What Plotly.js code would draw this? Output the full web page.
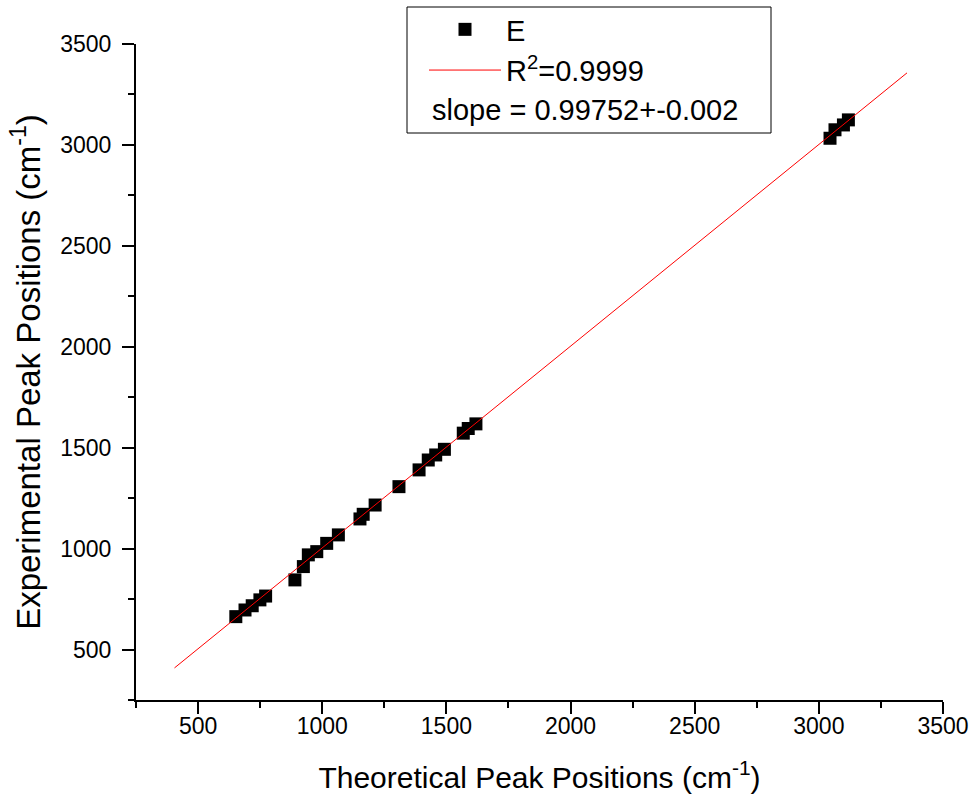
<!DOCTYPE html>
<html>
<head>
<meta charset="utf-8">
<script src="https://cdn.plot.ly/plotly-3.0.1.min.js"></script>
<style>html,body{margin:0;padding:0;background:#fff;}#chart{width:976px;height:802px;}</style>
</head>
<body>
<div id="chart"></div>
<script>
// Data
const theoretical = [652, 689, 718, 749, 772, 890, 924, 944, 978, 1018, 1065, 1152, 1165, 1213, 1309, 1390, 1427, 1457, 1492, 1568, 1588, 1619, 3045, 3065, 3099, 3119];
const experimental = [663, 696, 717, 746, 765, 845, 911, 969, 985, 1026, 1068, 1147, 1170, 1216, 1307, 1390, 1439, 1464, 1492, 1572, 1595, 1618, 3033, 3075, 3099, 3124];
const fitX = [405, 3355];
const fitY = [409, 3357];
const seriesName = 'E';
const fitName = 'R<sup>2</sup>=0.9999';
const slopeText = 'slope = 0.99752+-0.002';
const xTitle = 'Theoretical Peak Positions (cm<sup>-1</sup>)';
const yTitle = 'Experimental Peak Positions (cm<sup>-1</sup>)';

const FONT = 'Liberation Sans, Arial, sans-serif';

const traces = [
  {
    x: theoretical, y: experimental, name: seriesName,
    type: 'scatter', mode: 'markers',
    marker: {symbol: 'square', size: 13, color: '#000000'}
  },
  {
    x: fitX, y: fitY, name: fitName,
    type: 'scatter', mode: 'lines',
    line: {color: '#ff0000', width: 1}
  }
];

function axis(title, titleSize, standoff, labelStandoff) {
  return {
    range: [250, 3500], tick0: 0, dtick: 500,
    showline: true, linecolor: '#000', linewidth: 2,
    ticks: 'outside', ticklen: 12, tickwidth: 2, tickcolor: '#000',
    minor: {ticks: 'outside', ticklen: 6, tickwidth: 2, tickcolor: '#000', dtick: 250, tick0: 0, showgrid: false},
    showgrid: false, zeroline: false, mirror: false,
    tickfont: {family: FONT, size: 23, color: '#000'},
    ticklabelstandoff: labelStandoff,
    title: {text: title, font: {family: FONT, size: titleSize, color: '#000'}, standoff: standoff},
    automargin: false, fixedrange: true
  };
}

const layout = {
  width: 976, height: 802,
  margin: {l: 136, r: 33, t: 44, b: 102, autoexpand: false},
  paper_bgcolor: '#fff', plot_bgcolor: '#fff',
  font: {family: FONT, color: '#000'},
  xaxis: axis(xTitle, 30, 29, -8),
  yaxis: axis(yTitle, 33, 10, 6),
  showlegend: true,
  legend: {
    x: (424 - 136) / 807, y: (700 - 4) / 656, xanchor: 'left', yanchor: 'top',
    bgcolor: 'rgba(0,0,0,0)', borderwidth: 0,
    font: {family: FONT, size: 29, color: '#000'},
    itemwidth: 72, tracegroupgap: 0
  },
  shapes: [{
    type: 'rect', xref: 'paper', yref: 'paper',
    x0: (407 - 136) / 807, x1: (771 - 136) / 807, y0: (700 - 133) / 656, y1: (700 - 7) / 656,
    line: {color: '#000', width: 1}, fillcolor: 'rgba(0,0,0,0)'
  }],
  annotations: [{
    text: slopeText, xref: 'paper', yref: 'paper',
    x: (430 - 136) / 807, y: (700 - 110) / 656,
    xanchor: 'left', yanchor: 'middle', showarrow: false,
    font: {family: FONT, size: 29, color: '#000'}
  }]
};

Plotly.newPlot('chart', traces, layout, {staticPlot: true, displayModeBar: false});
</script>
</body>
</html>
